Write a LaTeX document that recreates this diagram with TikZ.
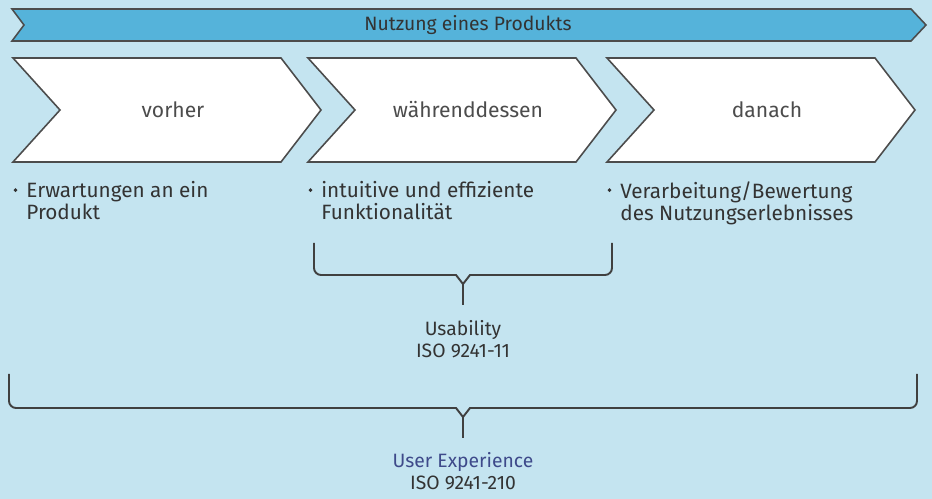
\documentclass[tikz,border=0pt]{standalone}
\usepackage{fontspec}
\setmainfont{Fira Sans}
\usepackage{tikz}
\usetikzlibrary{positioning}

\definecolor{bgblue}{HTML}{C4E4F0}
\definecolor{bandblue}{HTML}{55B3DA}
\definecolor{txtgrey}{HTML}{333333}
\definecolor{uxblue}{HTML}{3E4A8A}

\begin{document}
\begin{tikzpicture}[x=0.02cm, y=-0.02cm,
		txt/.style={text=txtgrey, font=\fontsize{11.8}{12.5}\selectfont, inner sep=0pt},
		chevron/.style={draw=black!70, fill=white, line width=0.9pt},
		brace/.style={draw=black!75, line width=1.1pt}]
		\fill[bgblue] (0,0) rectangle (932,499);
		\useasboundingbox (0,0) rectangle (932,499);
		% Band oben
		\draw[fill=bandblue, draw=black!70, line width=0.9pt] (12,9) -- (911,9) -- (926,25) -- (911,41) -- (12,41) -- (24,25) -- cycle;
		\node[txt, font=\fontsize{11}{12}\selectfont] (band) at (468,25) {Nutzung eines Produkts};
		% Phasen
		\foreach \x/\name/\label in {13/vorher/vorher, 308/waehrend/währenddessen, 607/danach/danach} {
			\draw[chevron] (\x,58) -- ++(268,0) -- ++(40,52) -- ++(-40,52) -- (\x,162) -- ++(47,-52) -- cycle;
			\node[txt, text=black!70, font=\fontsize{12}{14}\selectfont] (\name) at (\x+160,110) {\label};
		}
		\node[txt, anchor=north west, align=left] (erw) at (26,181) {Erwartungen an ein\\Produkt};
		\node[txt, anchor=north west, align=left] (funk) at (321,181) {intuitive und effiziente\\Funktionalität};
		\node[txt, anchor=north west, align=left] (verarb) at (620,181) {Verarbeitung/Bewertung\\des Nutzungserlebnisses};
		\foreach \n in {erw, funk, verarb}
			\fill[txtgrey] ([xshift=-6pt, yshift=-5.2pt]\n.north west) circle (1.1pt);
		% Klammern
		\draw[brace] (314,243) [rounded corners=4pt] -- (314,275) [sharp corners] -- (456,275) -- (463,284) -- (470,275) [rounded corners=4pt] -- (612,275) -- (612,243);
		\draw[brace] (463,284) -- (463,305);
		\node[txt, align=center, font=\fontsize{11}{12.2}\selectfont] (usab) at (463,339) {Usability\\ISO 9241-11};
		\draw[brace] (9,374) [rounded corners=4pt] -- (9,408) [sharp corners] -- (456,408) -- (463,417) -- (470,408) [rounded corners=4pt] -- (917,408) -- (917,374);
		\draw[brace] (463,417) -- (463,438);
		\node[txt, align=center, font=\fontsize{11}{12.2}\selectfont] (ux) at (463,471) {\textcolor{uxblue}{User Experience}\\ISO 9241-210};
	\end{tikzpicture}
\end{document}
